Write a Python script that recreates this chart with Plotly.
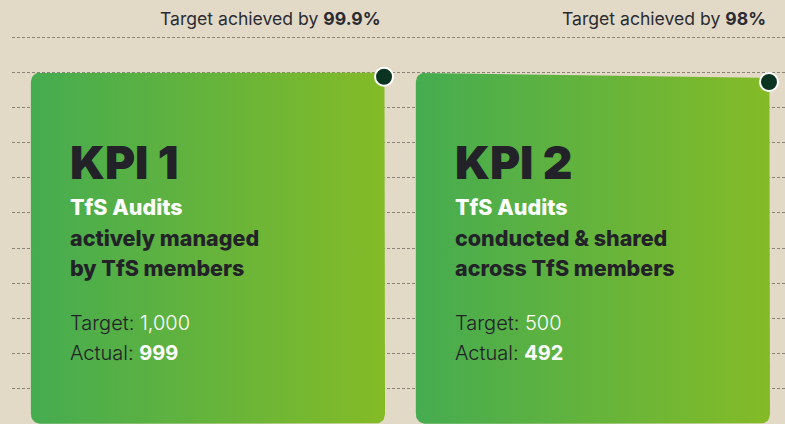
import plotly.graph_objects as go
import numpy as np

# ---- data ----
kpi_labels = ["KPI 1", "KPI 2"]
kpi_titles = ["TfS Audits", "TfS Audits"]
kpi_line2 = ["actively managed", "conducted & shared"]
kpi_line3 = ["by TfS members", "across TfS members"]
targets = [1000, 500]
target_labels = ["1,000", "500"]
actuals = [999, 492]
achieved_labels = ["99.9%", "98%"]
grid_ticks = [0, 10, 20, 30, 40, 50, 60, 70, 80, 90, 100, 110]

# ---- style / layout constants ----
W, H = 785, 424
ML = 12
BG = "#E2DAC6"
DARK = "#222228"
X_RANGE = [-0.509, 1.499]
Y_RANGE = [-0.06, 120.6]
BAR_W = 0.92
RADIUS_PX = 11
DOT_OFFSET_PX = 4

pw = W - ML


def px_x(v):
    return ML + (v - X_RANGE[0]) / (X_RANGE[1] - X_RANGE[0]) * pw


def px_y(v):
    return H - (v - Y_RANGE[0]) / (Y_RANGE[1] - Y_RANGE[0]) * H


def dx(p):
    return X_RANGE[0] + (p - ML) / pw * (X_RANGE[1] - X_RANGE[0])


def dy(p):
    return Y_RANGE[0] + (H - p) / H * (Y_RANGE[1] - Y_RANGE[0])


def rounded(pts, r, n=10):
    out = []
    m = len(pts)
    for i in range(m):
        P = np.array(pts[i], float)
        A = np.array(pts[i - 1], float)
        B = np.array(pts[(i + 1) % m], float)
        u1 = (A - P) / np.linalg.norm(A - P)
        u2 = (B - P) / np.linalg.norm(B - P)
        T1 = P + u1 * r
        T2 = P + u2 * r
        for t in np.linspace(0, 1, n):
            q = (1 - t) ** 2 * T1 + 2 * (1 - t) * t * P + t ** 2 * T2
            out.append(q)
    out.append(out[0])
    return np.array(out)


pcts = [a / t * 100 for a, t in zip(actuals, targets)]

fig = go.Figure()

for i, (pct) in enumerate(pcts):
    left, right = i - BAR_W / 2, i + BAR_W / 2
    pts = [
        (px_x(left), px_y(0)),
        (px_x(right), px_y(0)),
        (px_x(right), px_y(pct)),
        (px_x(left), px_y(100)),
    ]
    poly = rounded(pts, RADIUS_PX)
    xs = [dx(p[0]) for p in poly]
    ys = [dy(p[1]) for p in poly]
    fig.add_trace(go.Scatter(
        x=xs, y=ys, mode="lines", fill="toself",
        line=dict(width=0, color="rgba(0,0,0,0)"),
        fillgradient=dict(type="horizontal",
                          colorscale=[[0, "#45AC50"], [1, "#84BB27"]]),
        hoverinfo="skip", showlegend=False,
    ))

# achievement dots
fig.add_trace(go.Scatter(
    x=[i + BAR_W / 2 - 1 / 385 for i in range(len(pcts))],
    y=[p - DOT_OFFSET_PX / H * (Y_RANGE[1] - Y_RANGE[0]) for p in pcts],
    mode="markers",
    marker=dict(size=18, color="#0B3321", line=dict(color="white", width=2)),
    hoverinfo="skip", showlegend=False,
))

ann = []
for i in range(len(pcts)):
    left = i - BAR_W / 2
    right = i + BAR_W / 2
    tx = dx(px_x(left) + 37)
    ann.append(dict(x=dx(px_x(right) - 2), y=1 - 18 / H, xref="x", yref="paper",
                    xanchor="right", yanchor="middle", showarrow=False,
                    text="Target achieved by <b>" + achieved_labels[i] + "</b>",
                    font=dict(size=17.6, color="#2B2B33", family="Inter")))
    ann.append(dict(x=tx, y=1 - 162 / H, xref="x", yref="paper", xanchor="left",
                    yanchor="middle", showarrow=False, text=kpi_labels[i],
                    font=dict(size=46, color=DARK, family="Inter", weight=900)))
    ann.append(dict(x=tx, y=1 - 207 / H, xref="x", yref="paper", xanchor="left",
                    yanchor="middle", showarrow=False, text=kpi_titles[i],
                    font=dict(size=21.5, color="white", family="Inter", weight=800)))
    ann.append(dict(x=tx, y=1 - 237.5 / H, xref="x", yref="paper", xanchor="left",
                    yanchor="middle", showarrow=False, text=kpi_line2[i],
                    font=dict(size=21.5, color=DARK, family="Inter", weight=800)))
    ann.append(dict(x=tx, y=1 - 267.5 / H, xref="x", yref="paper", xanchor="left",
                    yanchor="middle", showarrow=False, text=kpi_line3[i],
                    font=dict(size=21.5, color=DARK, family="Inter", weight=800)))
    ann.append(dict(x=tx, y=1 - 323 / H, xref="x", yref="paper", xanchor="left",
                    yanchor="middle", showarrow=False,
                    text="Target: <span style='color:white'>" + target_labels[i] + "</span>",
                    font=dict(size=20, color=DARK, family="Inter", weight=300)))
    ann.append(dict(x=tx, y=1 - 353 / H, xref="x", yref="paper", xanchor="left",
                    yanchor="middle", showarrow=False,
                    text="Actual: <span style='color:white'><b>" + str(actuals[i]) + "</b></span>",
                    font=dict(size=20, color=DARK, family="Inter", weight=300)))

fig.update_layout(
    width=W, height=H,
    margin=dict(l=ML, r=0, t=0, b=0),
    paper_bgcolor=BG, plot_bgcolor=BG,
    annotations=ann,
    xaxis=dict(range=X_RANGE, visible=False, fixedrange=True),
    yaxis=dict(range=Y_RANGE, tickvals=grid_ticks, showticklabels=False,
               showgrid=True, gridcolor="#8A8477", griddash="3px,2px",
               gridwidth=1, zeroline=False, showline=False, ticks="",
               fixedrange=True),
    showlegend=False,
)

fig.write_html("out.html", config={"displayModeBar": False},
               post_script="document.body.style.margin='0';document.body.style.background='" + BG + "';")
